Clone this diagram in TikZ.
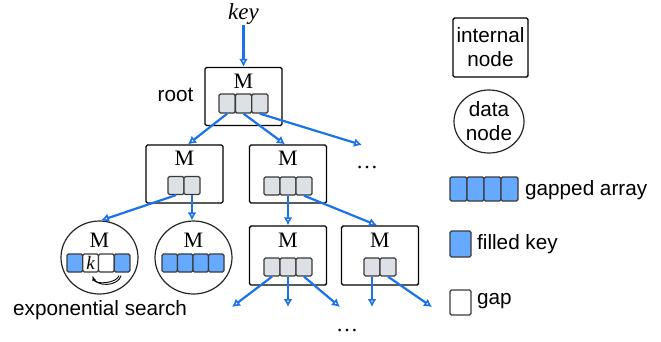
\documentclass[tikz,border=0pt]{standalone}
\usepackage{fontspec}
\newfontfamily\sansf{Liberation Sans}
\newfontfamily\seriff{Liberation Serif}
\usetikzlibrary{arrows.meta,calc,shapes.geometric}
\definecolor{lineblue}{HTML}{1A73E8}
\definecolor{cellblue}{HTML}{66AAFF}
\definecolor{cellgray}{HTML}{DDE0E4}
\definecolor{celledge}{HTML}{3A3A3A}
\begin{document}
\begin{tikzpicture}[x=1pt,y=-1pt,
 ibox/.style={draw=black,line width=1.4pt,rounded corners=1.5pt,minimum width=77pt,minimum height=58pt,inner sep=0pt},
 dnode/.style={draw=black!85,line width=1.2pt,ellipse,minimum width=77pt,minimum height=73pt,inner sep=0pt},
 gcell/.style={draw=celledge,line width=1.3pt,fill=cellgray,rounded corners=1.5pt,minimum width=16pt,minimum height=18pt,inner sep=0pt},
 bcell/.style={gcell,fill=cellblue},
 wcell/.style={gcell,fill=white},
 mlabel/.style={font=\seriff\fontsize{22}{24}\selectfont,inner sep=0pt},
 lbl/.style={font=\sansf\fontsize{20.7}{24}\selectfont,inner sep=0pt},
 link/.style={draw=lineblue,line width=2.2pt,-{Latex[open,length=8pt,width=9pt]}},
 swoop/.style={draw=black,line width=0.9pt},
]
\useasboundingbox (0,0) rectangle (661,341);

% key
\node[font=\seriff\itshape\fontsize{23}{24}\selectfont,inner sep=0pt] (key) at (243.5,14) {key};

% root
\node[ibox] (root) at (243.5,96.5) {};
\node[mlabel] (mroot) at (243.5,81.5) {M};
\foreach \i/\x in {1/227.2,2/243.5,3/259.8}
  \node[gcell,minimum width=16.3pt,minimum height=19pt] (r\i) at (\x,103.5) {};
\node[lbl] (rootlbl) at (175.5,95) {root};

% level 2
\node[ibox] (A) at (184.5,174) {};
\node[mlabel] (mA) at (184.5,158.5) {M};
\foreach \i/\x in {1/176,2/192}
  \node[gcell] (a\i) at (\x,185.5) {};
\node[ibox] (B) at (288,174) {};
\node[mlabel] (mB) at (288,158.5) {M};
\foreach \i/\x in {1/272,2/288,3/304}
  \node[gcell] (b\i) at (\x,186) {};
\node[mlabel] (dots1) at (367,168) {\ldots};
\coordinate (rootend) at (362,145);

% level 3
\node[dnode] (E) at (99.5,257.5) {};
\node[mlabel] (mE) at (99.5,240.5) {M};
\foreach \i/\x/\s in {1/74.9/bcell,2/90.6/wcell,3/106.4/wcell,4/122.1/bcell}
  \node[\s,minimum width=15.75pt] (e\i) at (\x,263) {};
\node[font=\seriff\itshape\fontsize{19}{20}\selectfont,inner sep=0pt] (kk) at (e2) {k};
\node[dnode] (F) at (193.5,257.5) {};
\node[mlabel] (mF) at (193.5,240.5) {M};
\foreach \i/\x in {1/169.75,2/185.25,3/200.75,4/216.25}
  \node[bcell,minimum width=15.5pt] (f\i) at (\x,263) {};
\node[lbl,anchor=west] (explbl) at (13,310) {exponential search};

\node[ibox,minimum height=59pt] (C) at (288,255.5) {};
\node[mlabel] (mC) at (288,240.5) {M};
\foreach \i/\x in {1/272,2/288,3/304}
  \node[gcell] (c\i) at (\x,267) {};
\node[ibox,minimum height=59pt] (D) at (380,255.5) {};
\node[mlabel] (mD) at (380,240.5) {M};
\foreach \i/\x in {1/372,2/388}
  \node[gcell] (d\i) at (\x,267) {};
\node[mlabel] (dots2) at (347,331) {\ldots};
\coordinate (c1end) at (232,307);
\coordinate (c2end) at (288,307);
\coordinate (c3end) at (340,307);
\coordinate (d1end) at (372,307);
\coordinate (d2end) at (432,307);

% exponential search swoop
\coordinate (sw1) at ($(e4.south)+(-1,3)$);
\coordinate (sw2) at ($(e4.south)+(-3,3)$);
\coordinate (swend) at ($(e2.south)+(2,4)$);
\draw[swoop] (sw1) .. controls ($(sw1)+(-3,11)$) and ($(swend)+(3,11)$) .. (swend);
\draw[swoop,-{Latex[length=4pt,width=4pt]}] (sw2) .. controls ($(sw2)+(-3,8)$) and ($(swend)+(3,8)$) .. (swend);

% connectors
\draw[link] (key) -- (root);
\draw[link] (r1.south) -- ($(A.north)+(3.5,0)$);
\draw[link] (r2.south) -- ($(B.north)+(-3,0)$);
\draw[link] (r3.south) -- (rootend);
\draw[link] (a1.south) -- ($(E.north)+(1.5,0)$);
\draw[link] (a2.south) -- (a2.south |- F.north);
\draw[link] (b2.south) -- (b2.south |- C.north);
\draw[link] (b3.south) -- ($(D.north)+(-3,0)$);
\draw[link] (c1.south) -- (c1end);
\draw[link] (c2.south) -- (c2end);
\draw[link] (c3.south) -- (c3end);
\draw[link] (d1.south) -- (d1end);
\draw[link] (d2.south) -- (d2end);

% legend
\node[ibox,lbl,align=center,minimum width=75pt,minimum height=59pt] (lgi) at (490.5,47.5) {internal\\node};
\node[dnode,lbl,align=center,minimum width=70pt,minimum height=63pt] (lgd) at (489,121.5) {data\\node};
\foreach \i/\x in {1/458.5,2/475.5,3/492.5,4/509.5}
  \node[bcell,minimum width=17pt,minimum height=24pt] (g\i) at (\x,189) {};
\node[lbl,anchor=base west] (lgg) at (525,195) {gapped array};
\node[bcell,minimum width=21pt,minimum height=26pt] (lgf) at (460.5,244) {};
\node[lbl,anchor=base west] (lgft) at (477,249) {filled key};
\node[wcell,minimum width=21pt,minimum height=25pt] (lgw) at (460.5,302.5) {};
\node[lbl,anchor=base west] (lgwt) at (477,304) {gap};
\end{tikzpicture}
\end{document}
